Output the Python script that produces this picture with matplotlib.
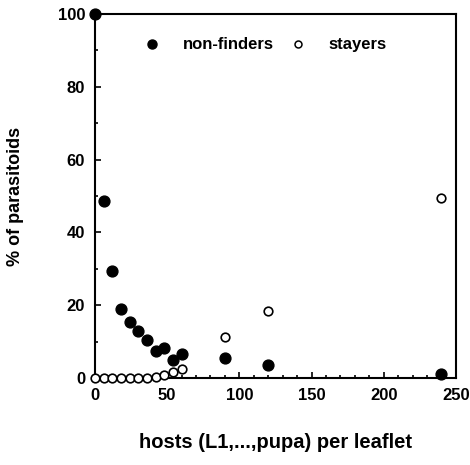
import matplotlib
matplotlib.use("Agg")
import matplotlib.pyplot as plt
from matplotlib.lines import Line2D
from matplotlib.ticker import MultipleLocator

# hosts per leaflet
hosts = [0, 6, 12, 18, 24, 30, 36, 42, 48, 54, 60, 90, 120, 240]
# % of parasitoids that are non-finders
non_finders = [100, 48.5, 29.4, 19.0, 15.5, 12.9, 10.5, 7.3, 8.2, 5.0, 6.6, 5.5, 3.5, 1.2]
# % of parasitoids that are stayers
stayers = [0, 0, 0, 0, 0, 0, 0, 0.3, 0.8, 1.6, 2.6, 11.2, 18.3, 49.5]

x_ticks = [0, 50, 100, 150, 200, 250]
y_ticks = [0, 20, 40, 60, 80, 100]

plt.rcParams['font.family'] = ['Liberation Sans', 'DejaVu Sans']
plt.rcParams['font.weight'] = 'bold'

fig = plt.figure(figsize=(4.70, 4.65), dpi=100)
ax = fig.add_axes([0.202, 0.187, 0.768, 0.783])

ax.plot(hosts, stayers, linestyle='none', marker='o', markersize=6.2,
        markerfacecolor='white', markeredgecolor='black', markeredgewidth=1.2,
        clip_on=False, zorder=3)
ax.plot(hosts, non_finders, linestyle='none', marker='o', markersize=7.8,
        markerfacecolor='black', markeredgecolor='black', clip_on=False, zorder=4)

ax.set_xlim(0, 250)
ax.set_ylim(0, 100)
ax.set_xticks(x_ticks)
ax.set_yticks(y_ticks)
ax.xaxis.set_minor_locator(MultipleLocator(10))
ax.yaxis.set_minor_locator(MultipleLocator(10))
ax.tick_params(which='both', direction='in', top=False, right=False,
               width=1.2, labelsize=12, colors='black')
ax.tick_params(which='major', length=4, pad=7)
ax.tick_params(which='minor', length=2.5)
for s in ax.spines.values():
    s.set_linewidth(1.5)
for lab in ax.get_xticklabels() + ax.get_yticklabels():
    lab.set_fontweight('bold')

ax.set_xlabel('hosts (L1,...,pupa) per leaflet', fontsize=14.5, fontweight='bold', labelpad=22)
ax.set_ylabel('% of parasitoids', fontsize=13, fontweight='bold', labelpad=24)

handles = [
    Line2D([], [], linestyle='none', marker='o', markersize=6.5, markerfacecolor='black',
           markeredgecolor='black'),
    Line2D([], [], linestyle='none', marker='o', markersize=5, markerfacecolor='white',
           markeredgecolor='black', markeredgewidth=1.1),
]
ax.legend(handles, ['non-finders', 'stayers'], ncol=2, frameon=False,
          loc='center left', bbox_to_anchor=(0.09, 0.915),
          handletextpad=1.2, columnspacing=0.9, handlelength=1.2,
          prop={'weight': 'bold', 'size': 12})

fig.savefig('out.png', dpi=100)
